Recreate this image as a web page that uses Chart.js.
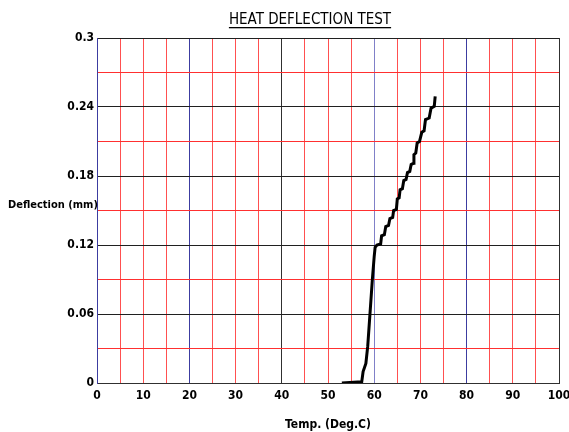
<!DOCTYPE html>
<html>
<head>
<meta charset="utf-8">
<script src="https://cdn.jsdelivr.net/npm/chart.js@4.4.1/dist/chart.umd.min.js"></script>
<style>
html,body{margin:0;padding:0;background:#fff;}
#wrap{position:relative;width:569px;height:432px;}
</style>
</head>
<body>
<div id="wrap"><canvas id="c"></canvas></div>
<script>
const chartTitle = "HEAT DEFLECTION TEST";
const xAxisTitle = "Temp. (Deg.C)";
const yAxisTitle = "Deflection (mm)";
const temps = [53.0, 57.3, 57.6, 58.2, 58.6, 59.1, 59.6, 60.0, 60.2, 60.6, 61.4, 61.6, 62.2, 62.5, 63.1, 63.4, 64.0, 64.2, 64.8, 65.0, 65.4, 65.6, 66.1, 66.4, 66.9, 67.2, 67.7, 68.0, 68.5, 68.6, 69.0, 69.3, 69.8, 70.3, 70.8, 71.1, 71.9, 72.3, 73.0, 73.2];
const deflections = [0, 0.001, 0.010, 0.017, 0.032, 0.061, 0.090, 0.110, 0.118, 0.120, 0.121, 0.128, 0.129, 0.136, 0.137, 0.143, 0.144, 0.150, 0.151, 0.160, 0.161, 0.168, 0.169, 0.176, 0.177, 0.183, 0.184, 0.190, 0.191, 0.1985, 0.200, 0.2087, 0.210, 0.218, 0.2193, 0.229, 0.2304, 0.239, 0.2406, 0.2493];
const xTicks = [0, 10, 20, 30, 40, 50, 60, 70, 80, 90, 100];
const yTickLabels = [0, 0.06, 0.12, 0.18, 0.24, 0.3];

const points = temps.map((t, i) => ({x: t, y: deflections[i]}));
const FONT = "'DejaVu Sans Condensed', 'Liberation Sans Narrow', 'Liberation Sans', Arial, sans-serif";

const xGridColor = (v) => {
  if (v === 0 || v === 20 || v === 80) return '#3c3ca0';
  if (v === 60) return '#8080c8';
  if (v === 40 || v === 100) return '#303030';
  return '#ff5050';
};

const extraText = {
  id: 'extraText',
  afterDraw(chart) {
    const ctx = chart.ctx;
    ctx.save();
    ctx.fillStyle = '#000';
    ctx.font = "15px " + FONT;
    ctx.textAlign = 'center';
    ctx.textBaseline = 'alphabetic';
    const tx = 310, ty = 24;
    ctx.fillText(chartTitle, tx, ty);
    const w = ctx.measureText(chartTitle).width;
    ctx.fillRect(tx - w / 2, ty + 3, w, 1.3);
    ctx.font = "bold 11px " + FONT;
    ctx.textAlign = 'left';
    ctx.textBaseline = 'middle';
    ctx.fillText(yAxisTitle, 8, 205);
    ctx.restore();
  }
};

new Chart(document.getElementById('c'), {
  type: 'line',
  data: {
    datasets: [{
      data: points,
      borderColor: '#000',
      borderWidth: 3,
      pointRadius: 0,
      tension: 0,
      fill: false
    }]
  },
  options: {
    responsive: true,
    maintainAspectRatio: false,
    animation: false,
    layout: { padding: { top: 38, right: 10, left: 0, bottom: 0 } },
    plugins: { legend: { display: false }, title: { display: false }, tooltip: { enabled: false } },
    scales: {
      x: {
        type: 'linear',
        min: 0, max: 100,
        afterBuildTicks: (s) => { s.ticks = []; for (let v = 0; v <= 100; v += 5) s.ticks.push({value: v}); },
        afterFit: (s) => { s.height = 49; s.paddingLeft = 0; s.paddingRight = 0; },
        ticks: {
          autoSkip: false,
          maxRotation: 0,
          padding: 6,
          color: '#000',
          font: { family: FONT, size: 12, weight: 'bold' },
          callback: (v) => xTicks.includes(v) ? String(v) : ''
        },
        grid: {
          drawTicks: false,
          color: (c) => xGridColor(c.tick ? c.tick.value : 0),
          lineWidth: 1
        },
        border: { display: true, color: '#303030', width: 1 },
        title: {
          display: true,
          text: xAxisTitle,
          color: '#000',
          font: { family: FONT, size: 12, weight: 'bold' },
          padding: { top: 12, bottom: 0 }
        }
      },
      y: {
        type: 'linear',
        min: 0, max: 0.3,
        afterBuildTicks: (s) => { s.ticks = []; for (let i = 0; i <= 10; i++) s.ticks.push({value: Math.round(i * 3) / 100}); },
        afterFit: (s) => { s.width = 97; s.paddingTop = 0; s.paddingBottom = 0; },
        ticks: {
          autoSkip: false,
          padding: 3,
          color: '#000',
          font: { family: FONT, size: 12, weight: 'bold' },
          callback: (v) => {
            const r = Math.round(v * 100) / 100;
            return yTickLabels.some(t => Math.abs(t - r) < 1e-9) ? String(r) : '';
          }
        },
        grid: {
          drawTicks: false,
          color: (c) => {
            const v = c.tick ? Math.round(c.tick.value * 100) : 0;
            return (v % 6 === 0) ? '#202020' : '#ff3030';
          },
          lineWidth: 1
        },
        border: { display: true, color: '#3c3ca0', width: 1 }
      }
    }
  },
  plugins: [extraText]
});
</script>
</body>
</html>
